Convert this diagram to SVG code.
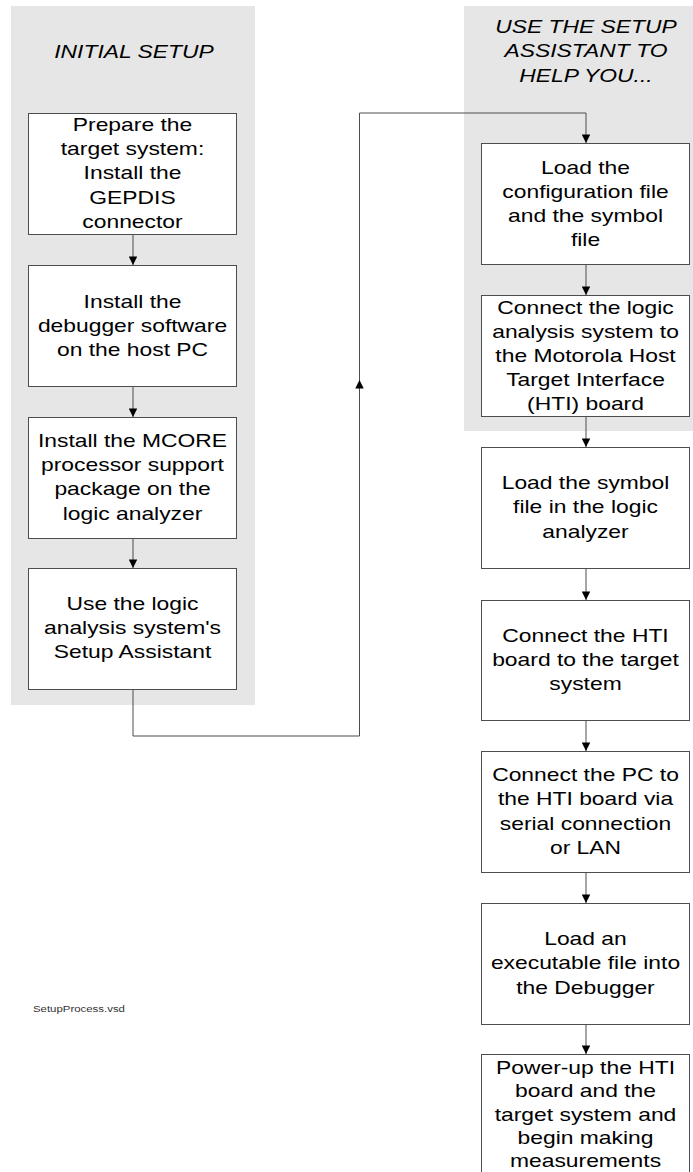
<svg xmlns="http://www.w3.org/2000/svg" width="693" height="1172" viewBox="0 0 693 1172">
  <style>
    .panel { fill: #e6e6e6; stroke: none; }
    .box { fill: #ffffff; stroke: #4d4d4d; stroke-width: 1; }
    .lbl { font-family: "Liberation Sans", Arial, sans-serif; font-size: 18px; fill: #000; text-anchor: middle; }
    .ttl { font-family: "Liberation Sans", Arial, sans-serif; font-size: 18px; font-style: italic; fill: #000; text-anchor: middle; }
    .note { font-family: "Liberation Sans", Arial, sans-serif; font-size: 9px; fill: #333; }
    .wire { fill: none; stroke: #4d4d4d; stroke-width: 1; }
  </style>
  <defs>
    <marker id="arr" viewBox="0 0 10 10" refX="10" refY="5" markerWidth="9" markerHeight="8.5" markerUnits="userSpaceOnUse" orient="auto">
      <path d="M0,0 L10,5 L0,10 Z" fill="#000"/>
    </marker>
  </defs>

  <rect width="693" height="1172" fill="#ffffff"/>

  <!-- swimlane panels -->
  <g id="panel-initial">
    <rect class="panel" x="11" y="6" width="244" height="699"/>
    <text class="ttl" transform="translate(134,58) scale(1.27,1)">INITIAL SETUP</text>
  </g>
  <g id="panel-assistant">
    <rect class="panel" x="464" y="6" width="229" height="425"/>
    <text class="ttl" transform="translate(586,33) scale(1.27,1)"><tspan x="0" y="0">USE THE SETUP</tspan><tspan x="0" dy="24.5">ASSISTANT TO</tspan><tspan x="0" dy="24.5">HELP YOU...</tspan></text>
  </g>

  <!-- connectors -->
  <g id="connectors">
    <line class="wire" x1="133" y1="234" x2="133" y2="265" marker-end="url(#arr)"/>
    <line class="wire" x1="133" y1="386" x2="133" y2="417" marker-end="url(#arr)"/>
    <line class="wire" x1="133" y1="538" x2="133" y2="568" marker-end="url(#arr)"/>
    <path class="wire" d="M133,690 V736 H359.5 V113 H586 V143" marker-end="url(#arr)"/>
    <line class="wire" x1="359.5" y1="400" x2="359.5" y2="380" marker-end="url(#arr)"/>
    <line class="wire" x1="586" y1="265" x2="586" y2="295" marker-end="url(#arr)"/>
    <line class="wire" x1="586" y1="417" x2="586" y2="447" marker-end="url(#arr)"/>
    <line class="wire" x1="586" y1="568" x2="586" y2="600" marker-end="url(#arr)"/>
    <line class="wire" x1="586" y1="720" x2="586" y2="751" marker-end="url(#arr)"/>
    <line class="wire" x1="586" y1="872" x2="586" y2="903" marker-end="url(#arr)"/>
    <line class="wire" x1="586" y1="1024" x2="586" y2="1054" marker-end="url(#arr)"/>
  </g>

  <!-- initial setup steps -->
  <g id="prepare-target">
    <rect class="box" x="28.5" y="113.5" width="208" height="121"/>
    <text class="lbl" transform="translate(132.5,131) scale(1.27,1)"><tspan x="0" y="0">Prepare the</tspan><tspan x="0" dy="24.2">target system:</tspan><tspan x="0" dy="24.2">Install the</tspan><tspan x="0" dy="24.2">GEPDIS</tspan><tspan x="0" dy="24.2">connector</tspan></text>
  </g>
  <g id="install-debugger">
    <rect class="box" x="28.5" y="265.5" width="208" height="121"/>
    <text class="lbl" transform="translate(132.5,307.5) scale(1.27,1)"><tspan x="0" y="0">Install the</tspan><tspan x="0" dy="24.2">debugger software</tspan><tspan x="0" dy="24.2">on the host PC</tspan></text>
  </g>
  <g id="install-mcore">
    <rect class="box" x="28.5" y="417.5" width="208" height="121"/>
    <text class="lbl" transform="translate(132.5,447) scale(1.27,1)"><tspan x="0" y="0">Install the MCORE</tspan><tspan x="0" dy="24.2">processor support</tspan><tspan x="0" dy="24.2">package on the</tspan><tspan x="0" dy="24.2">logic analyzer</tspan></text>
  </g>
  <g id="use-assistant">
    <rect class="box" x="28.5" y="568.5" width="208" height="121"/>
    <text class="lbl" transform="translate(132.5,610) scale(1.27,1)"><tspan x="0" y="0">Use the logic</tspan><tspan x="0" dy="24.2">analysis system's</tspan><tspan x="0" dy="24.2">Setup Assistant</tspan></text>
  </g>

  <!-- assistant steps -->
  <g id="load-config">
    <rect class="box" x="481.5" y="143.5" width="208" height="121"/>
    <text class="lbl" transform="translate(585.5,174) scale(1.27,1)"><tspan x="0" y="0">Load the</tspan><tspan x="0" dy="24">configuration file</tspan><tspan x="0" dy="24">and the symbol</tspan><tspan x="0" dy="24">file</tspan></text>
  </g>
  <g id="connect-hti">
    <rect class="box" x="481.5" y="295.5" width="208" height="121"/>
    <text class="lbl" transform="translate(585.5,313.6) scale(1.27,1)"><tspan x="0" y="0">Connect the logic</tspan><tspan x="0" dy="24.2">analysis system to</tspan><tspan x="0" dy="24.2">the Motorola Host</tspan><tspan x="0" dy="24.2">Target Interface</tspan><tspan x="0" dy="24.2">(HTI) board</tspan></text>
  </g>

  <!-- remaining steps -->
  <g id="load-symbol">
    <rect class="box" x="481.5" y="447.5" width="208" height="121"/>
    <text class="lbl" transform="translate(585.5,489.3) scale(1.27,1)"><tspan x="0" y="0">Load the symbol</tspan><tspan x="0" dy="24.2">file in the logic</tspan><tspan x="0" dy="24.2">analyzer</tspan></text>
  </g>
  <g id="connect-target">
    <rect class="box" x="481.5" y="600.5" width="208" height="120"/>
    <text class="lbl" transform="translate(585.5,641.8) scale(1.27,1)"><tspan x="0" y="0">Connect the HTI</tspan><tspan x="0" dy="24.2">board to the target</tspan><tspan x="0" dy="24.2">system</tspan></text>
  </g>
  <g id="connect-pc">
    <rect class="box" x="481.5" y="751.5" width="208" height="121"/>
    <text class="lbl" transform="translate(585.5,781.2) scale(1.27,1)"><tspan x="0" y="0">Connect the PC to</tspan><tspan x="0" dy="24.2">the HTI board via</tspan><tspan x="0" dy="24.2">serial connection</tspan><tspan x="0" dy="24.2">or LAN</tspan></text>
  </g>
  <g id="load-executable">
    <rect class="box" x="481.5" y="903.5" width="208" height="121"/>
    <text class="lbl" transform="translate(585.5,945.3) scale(1.27,1)"><tspan x="0" y="0">Load an</tspan><tspan x="0" dy="24.2">executable file into</tspan><tspan x="0" dy="24.2">the Debugger</tspan></text>
  </g>
  <g id="power-up">
    <rect class="box" x="481.5" y="1054.5" width="208" height="128"/>
    <text class="lbl" transform="translate(585.5,1074) scale(1.27,1)"><tspan x="0" y="0">Power-up the HTI</tspan><tspan x="0" dy="23.3">board and the</tspan><tspan x="0" dy="23.3">target system and</tspan><tspan x="0" dy="23.3">begin making</tspan><tspan x="0" dy="23.3">measurements</tspan></text>
  </g>

  <text class="note" transform="translate(33,1012) scale(1.27,1)">SetupProcess.vsd</text>
</svg>
